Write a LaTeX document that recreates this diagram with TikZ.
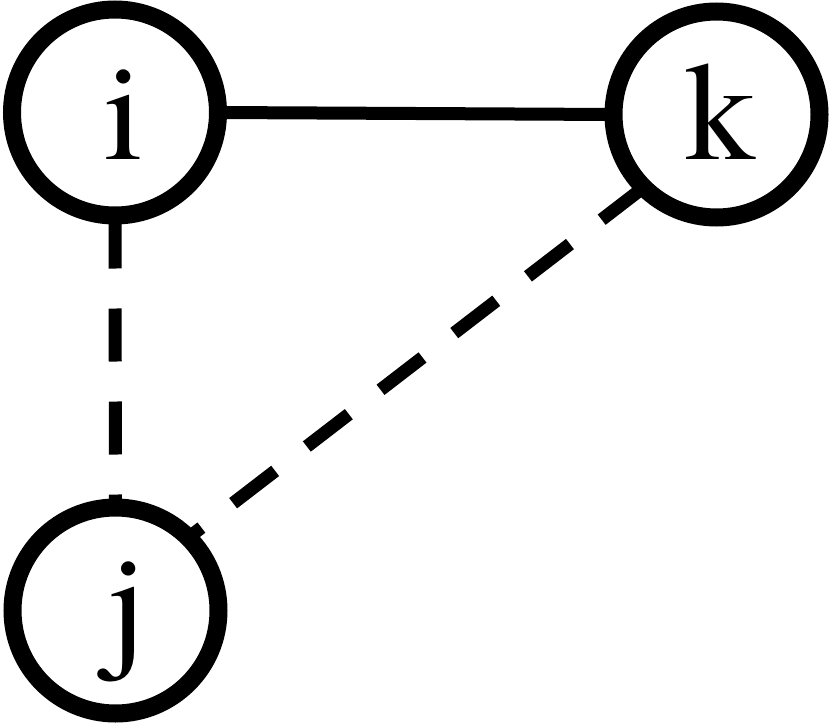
\documentclass[tikz,border=0pt]{standalone}
\usepackage{fontspec}
\newfontfamily\letterfont{texgyretermes-regular.otf}
\begin{document}
\begin{tikzpicture}[x=1pt,y=-1pt]
		\tikzstyle{vertex}=[draw=black, circle, line width=18pt, minimum size=206pt, inner sep=0pt, outer sep=0pt]
		\tikzstyle{letter}=[anchor=base, inner sep=0pt, font=\letterfont\fontsize{140}{140}\selectfont]
		\tikzstyle{edge}=[black, line width=13pt]
		\tikzstyle{dashedge}=[edge, dash pattern=on 53pt off 40pt]
		\useasboundingbox (0,0) rectangle (830,725);
		\node [vertex] (i) at (115,112.5) {};
		\node [vertex] (k) at (716.5,114.5) {};
		\node [vertex] (j) at (115.5,610.5) {};
		\node [letter] (li) at (124,159) {i};
		\node [letter] (lk) at (720,159) {k};
		\node [letter] (lj) at (126.5,651) {j};
		\draw [edge] (i.east) -- (k.west);
		\draw [dashedge] (i.south) -- (j.north);
		\draw [dashedge] (k.south west) -- (j.north east);
	\end{tikzpicture}
\end{document}
